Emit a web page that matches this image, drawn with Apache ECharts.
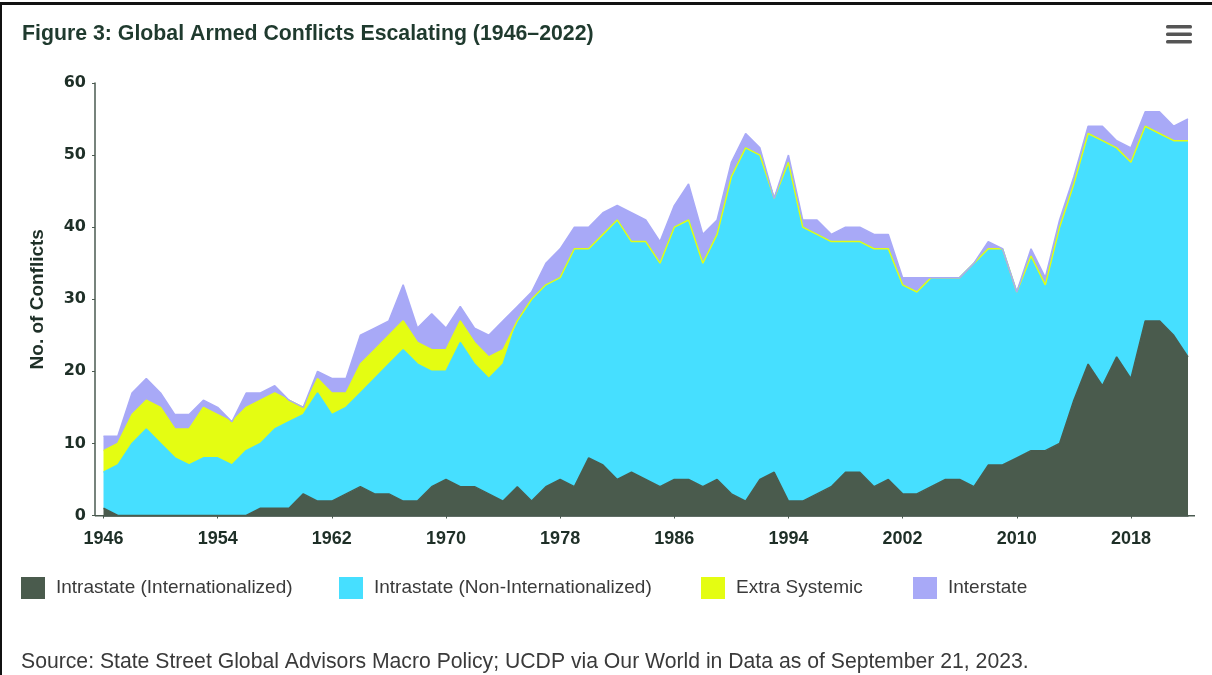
<!DOCTYPE html>
<html>
<head>
<meta charset="utf-8">
<script src="https://cdn.jsdelivr.net/npm/echarts@6/dist/echarts.min.js"></script>
<style>
  html, body { margin: 0; padding: 0; background: #fff; }
  #wrap { position: relative; width: 1212px; height: 675px; overflow: hidden; }
  #chart { position: absolute; left: 0; top: 0; width: 1212px; height: 675px; }
  #frame { position: absolute; left: 0; top: 2px; width: 1212px; height: 700px; border-top: 3px solid #111; border-left: 2px solid #111; box-sizing: border-box; pointer-events: none; }
</style>
</head>
<body>
<div id="wrap"><div id="chart"></div><div id="frame"></div></div>
<script>
const years = ['1946','1947','1948','1949','1950','1951','1952','1953','1954','1955','1956','1957','1958','1959','1960','1961','1962','1963','1964','1965','1966','1967','1968','1969','1970','1971','1972','1973','1974','1975','1976','1977','1978','1979','1980','1981','1982','1983','1984','1985','1986','1987','1988','1989','1990','1991','1992','1993','1994','1995','1996','1997','1998','1999','2000','2001','2002','2003','2004','2005','2006','2007','2008','2009','2010','2011','2012','2013','2014','2015','2016','2017','2018','2019','2020','2021','2022'];
const intraInternationalized = [1,0,0,0,0,0,0,0,0,0,0,1,1,1,3,2,2,3,4,3,3,2,2,4,5,4,4,3,2,4,2,4,5,4,8,7,5,6,5,4,5,5,4,5,3,2,5,6,2,2,3,4,6,6,4,5,3,3,4,5,5,4,7,7,8,9,9,10,16,21,18,22,19,27,27,25,22];
const intraNonInternationalized = [5,7,10,12,10,8,7,8,8,7,9,9,11,12,11,15,12,12,13,16,18,21,19,16,15,20,17,16,19,23,28,28,28,33,29,32,36,32,33,31,35,36,31,34,44,49,45,38,47,38,36,34,32,32,33,32,29,28,29,28,28,31,30,30,23,27,23,30,30,32,34,29,30,27,26,27,30];
const extraSystemic = [3,3,4,4,5,4,5,7,6,6,6,6,5,3,1,2,3,2,4,4,4,4,3,3,3,3,3,3,2,0,0,0,0,0,0,0,0,0,0,0,0,0,0,0,0,0,0,0,0,0,0,0,0,0,0,0,0,0,0,0,0,0,0,0,0,0,0,0,0,0,0,0,0,0,0,0,0];
const interstate = [2,1,3,3,2,2,2,1,1,0,2,1,1,0,0,1,2,2,4,3,2,5,2,5,3,2,2,3,4,2,1,3,4,3,3,3,2,4,3,3,3,5,4,2,2,2,1,0,1,1,2,1,2,2,2,2,1,2,0,0,0,0,1,0,0,1,1,1,1,1,2,1,2,2,3,2,3];

const seriesNames = ['Intrastate (Internationalized)','Intrastate (Non-Internationalized)','Extra Systemic','Interstate'];
const seriesValues = [intraInternationalized, intraNonInternationalized, extraSystemic, interstate];
const colors = ['#4a5b4d','#46dfff','#e4fd12','#a8a9f7'];

const chart = echarts.init(document.getElementById('chart'), null, { renderer: 'canvas' });

const series = seriesNames.map((name, i) => ({
  name: name,
  type: 'line',
  stack: 'total',
  symbol: 'none',
  showSymbol: false,
  smooth: false,
  color: colors[i],
  lineStyle: { width: 1.5, color: colors[i] },
  areaStyle: { color: colors[i], opacity: 1 },
  itemStyle: { color: colors[i] },
  emphasis: { disabled: true },
  data: seriesValues[i]
}));

const legendLefts = [21, 339, 701, 913];
const legends = seriesNames.map((name, i) => ({
  data: [{ name: name, icon: 'rect' }],
  left: legendLefts[i],
  top: 577,
  padding: 0,
  itemWidth: 24,
  itemHeight: 22,
  selectedMode: false,
  textStyle: { fontFamily: 'Liberation Sans', fontSize: 19, color: '#3a3a3a', padding: [0, 0, 0, 6] }
}));

chart.setOption({
  animation: false,
  backgroundColor: '#ffffff',
  title: [
    { text: 'Figure 3: Global Armed Conflicts Escalating (1946\u20132022)', left: 17, top: 19,
      textStyle: { fontFamily: 'Liberation Sans', fontWeight: 'bold', fontSize: 21.3, color: '#1f3a2e' } },
    { text: 'Source: State Street Global Advisors Macro Policy; UCDP via Our World in Data as of September 21, 2023.', left: 16, top: 647,
      textStyle: { fontFamily: 'Liberation Sans', fontWeight: 'normal', fontSize: 21.2, color: '#3a3a3a' } }
  ],
  legend: legends,
  grid: { left: 103.5, right: 24, top: 83, bottom: 159.5, containLabel: false },
  xAxis: {
    type: 'category',
    data: years,
    boundaryGap: false,
    axisLine: { show: true, lineStyle: { color: '#4a5a50', width: 1.5 } },
    axisTick: { show: true, interval: 7, length: 3, lineStyle: { color: '#4a5a50' } },
    axisLabel: { interval: 7, margin: 15, fontFamily: 'Liberation Sans', fontWeight: 'bold', fontSize: 18, color: '#1e2f27' },
    splitLine: { show: false }
  },
  yAxis: {
    type: 'value',
    min: 0,
    max: 60,
    interval: 10,
    offset: 8.5,
    name: 'No. of Conflicts',
    nameLocation: 'middle',
    nameGap: 48,
    nameTextStyle: { fontFamily: 'Liberation Sans', fontWeight: 'bold', fontSize: 19, color: '#1e2f27' },
    axisLine: { show: true, lineStyle: { color: '#4a5a50', width: 1.5 } },
    axisTick: { show: true, length: 3, lineStyle: { color: '#4a5a50' } },
    axisLabel: { margin: 9, fontFamily: 'DejaVu Sans', fontWeight: 'bold', fontSize: 16, color: '#1e2f27' },
    splitLine: { show: false }
  },
  graphic: [
    { type: 'line', z: -1, shape: { x1: 95, y1: 515.75, x2: 1195, y2: 515.75 }, style: { stroke: '#4a5a50', lineWidth: 1.5 } },
    { type: 'rect', left: 1166, top: 25, shape: { width: 26, height: 3.5, r: 1.5 }, style: { fill: '#555' } },
    { type: 'rect', left: 1166, top: 32.5, shape: { width: 26, height: 3.5, r: 1.5 }, style: { fill: '#555' } },
    { type: 'rect', left: 1166, top: 40, shape: { width: 26, height: 3.5, r: 1.5 }, style: { fill: '#555' } }
  ],
  series: series
});
</script>
</body>
</html>
